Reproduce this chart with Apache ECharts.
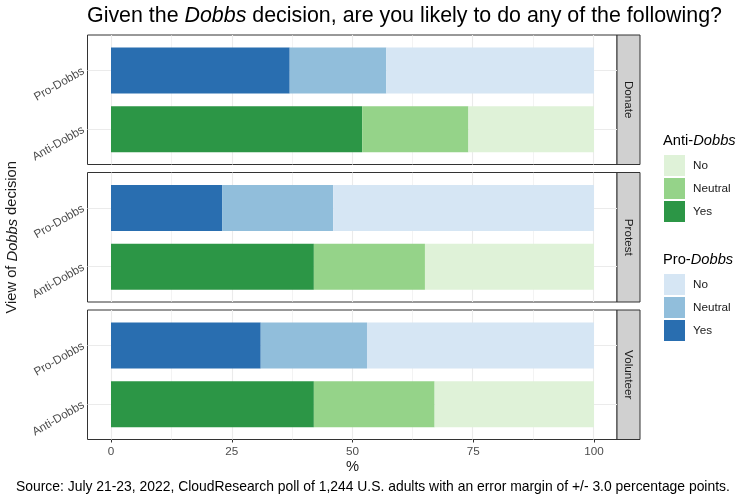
<!DOCTYPE html>
<html style="height: 100%">
<head>
    <meta charset="utf-8">
    <script src="https://cdn.jsdelivr.net/npm/echarts@6/dist/echarts.min.js"></script>
</head>
<body style="height: 100%; margin: 0; background: #fff">
    <div id="main" style="width: 750px; height: 500px;"></div>
    <script type="text/javascript">
    // data (percent)
    var facets = ['Donate', 'Protest', 'Volunteer'];
    var views = ['Anti-Dobbs', 'Pro-Dobbs'];   // bottom -> top
    var answers = ['Yes', 'Neutral', 'No'];    // left -> right in the stack
    var antiYes = [52, 42, 42];
    var antiNeutral = [22, 23, 25];
    var antiNo = [26, 35, 33];
    var proYes = [37, 23, 31];
    var proNeutral = [20, 23, 22];
    var proNo = [43, 54, 47];
    var xTicks = [0, 25, 50, 75, 100];

    var antiColors = { Yes: '#2c9646', Neutral: '#95d389', No: '#dff2d8' };
    var proColors = { Yes: '#296eb0', Neutral: '#91bedb', No: '#d6e6f4' };

    var font = 'Liberation Sans, Arial, Helvetica, sans-serif';
    var panelTop = [35, 172.5, 310];
    var panelH = 129.5;
    var panelLeft = 87.5, panelRight = 617;

    var myChart = echarts.init(document.getElementById('main'));

    var grids = [], xAxes = [], yAxes = [], series = [], graphics = [];

    facets.forEach(function (facet, i) {
        var top = panelTop[i];
        var last = i === facets.length - 1;
        // panel box (border + gridlines)
        grids.push({
            left: panelLeft, width: panelRight - panelLeft, top: top, height: panelH,
            outerBoundsMode: 'none',
            show: true, backgroundColor: '#fff', borderColor: '#333', borderWidth: 1
        });
        xAxes.push({ gridIndex: 2 * i, type: 'value', min: -5, max: 105, show: false });
        yAxes.push({ gridIndex: 2 * i, type: 'value', min: 0.4, max: 2.6, show: false });

        var lines = [];
        xTicks.forEach(function (t, k) {
            lines.push({ xAxis: t, lineStyle: { color: '#ebebeb', width: 1.1, type: 'solid' } });
            if (k < xTicks.length - 1) {
                lines.push({ xAxis: (t + xTicks[k + 1]) / 2, lineStyle: { color: '#ebebeb', width: 0.6, type: 'solid' } });
            }
        });
        views.forEach(function (v, k) {
            lines.push({ yAxis: k + 1, lineStyle: { color: '#ebebeb', width: 1.1, type: 'solid' } });
        });
        series.push({
            type: 'line', xAxisIndex: 2 * i, yAxisIndex: 2 * i, data: [], z: 1,
            markLine: { silent: true, z: 1, symbol: 'none', animation: false, label: { show: false }, data: lines }
        });

        // bars grid (0..100 across, two category bands)
        grids.push({ left: 111, width: 483, top: top + 6, height: 117.5, outerBoundsMode: 'none' });
        xAxes.push({
            gridIndex: 2 * i + 1, type: 'value', min: 0, max: 100, interval: 25,
            offset: 6,
            splitLine: { show: false },
            axisLine: { show: false },
            axisTick: { show: last, length: 3, lineStyle: { color: '#333' } },
            axisLabel: { show: last, color: '#4d4d4d', fontSize: 11.7, fontFamily: font, margin: 6 },
            name: last ? '%' : '', nameLocation: 'middle', nameGap: 20,
            nameTextStyle: { color: '#1a1a1a', fontSize: 14.7, fontFamily: font }
        });
        yAxes.push({
            gridIndex: 2 * i + 1, type: 'category', data: views,
            offset: 23.5,
            axisLine: { show: false },
            axisTick: { show: true, length: 3, alignWithLabel: true, lineStyle: { color: '#333' } },
            axisLabel: { color: '#4d4d4d', fontSize: 11.7, fontFamily: font, rotate: 30, margin: 4 },
            splitLine: { show: false },
            name: i === 1 ? 'View of {i|Dobbs} decision' : '',
            nameLocation: 'middle', nameRotate: 90, nameGap: 64,
            nameTextStyle: {
                color: '#1a1a1a', fontSize: 14.7, fontFamily: font,
                rich: { i: { fontStyle: 'italic', fontSize: 14.7, fontFamily: font, color: '#1a1a1a' } }
            }
        });

        var antiVals = { Yes: antiYes[i], Neutral: antiNeutral[i], No: antiNo[i] };
        var proVals = { Yes: proYes[i], Neutral: proNeutral[i], No: proNo[i] };
        answers.forEach(function (a) {
            series.push({
                name: 'Anti|' + a, type: 'bar', stack: 'panel' + i, z: 3,
                xAxisIndex: 2 * i + 1, yAxisIndex: 2 * i + 1, barWidth: 46,
                itemStyle: { color: antiColors[a] },
                data: [antiVals[a], null]
            });
        });
        answers.forEach(function (a) {
            series.push({
                name: 'Pro|' + a, type: 'bar', stack: 'panel' + i, z: 3,
                xAxisIndex: 2 * i + 1, yAxisIndex: 2 * i + 1, barWidth: 46,
                itemStyle: { color: proColors[a] },
                data: [null, proVals[a]]
            });
        });

        // facet strip on the right
        graphics.push({
            type: 'rect', shape: { x: panelRight, y: top, width: 23, height: panelH },
            style: { fill: '#d0d0d0', stroke: '#333', lineWidth: 1 }
        });
        graphics.push({
            type: 'text', x: panelRight + 11.5, y: top + panelH / 2, rotation: -Math.PI / 2,
            style: { text: facet, fill: '#1a1a1a', fontSize: 11.7, fontFamily: font, align: 'center', verticalAlign: 'middle' }
        });
    });

    var legendCommon = {
        orient: 'vertical', left: 664, itemWidth: 21, itemHeight: 21, itemGap: 2,
        padding: 0, icon: 'rect', selectedMode: false,
        textStyle: { color: '#1a1a1a', fontSize: 11.7, fontFamily: font, padding: [0, 0, 0, 3] },
        formatter: function (name) { return name.split('|')[1]; }
    };

    var legendTitle = {
        color: '#000', fontSize: 14.7, fontWeight: 'normal', fontFamily: font,
        rich: { i: { fontStyle: 'italic', fontSize: 14.7, fontFamily: font, color: '#000' } }
    };

    var option = {
        animation: false,
        backgroundColor: '#fff',
        title: [
            {
                text: 'Given the {i|Dobbs} decision, are you likely to do any of the following?',
                left: 87, top: 6, padding: 0,
                textStyle: {
                    color: '#000', fontSize: 21.4, fontWeight: 'normal', fontFamily: font,
                    rich: { i: { fontStyle: 'italic', fontSize: 21.4, fontFamily: font, color: '#000' } }
                }
            },
            { text: 'Anti-{i|Dobbs}', left: 663, top: 133, padding: 0, textStyle: legendTitle },
            { text: 'Pro-{i|Dobbs}', left: 663, top: 252, padding: 0, textStyle: legendTitle },
            {
                text: 'Source: July 21-23, 2022, CloudResearch poll of 1,244 U.S. adults with an error margin of +/- 3.0 percentage points.',
                left: 16, top: 480, padding: 0,
                textStyle: { color: '#000', fontSize: 13.9, fontWeight: 'normal', fontFamily: font }
            }
        ],
        legend: [
            Object.assign({}, legendCommon, { top: 155, data: ['Anti|No', 'Anti|Neutral', 'Anti|Yes'] }),
            Object.assign({}, legendCommon, { top: 274, data: ['Pro|No', 'Pro|Neutral', 'Pro|Yes'] })
        ],
        grid: grids,
        xAxis: xAxes,
        yAxis: yAxes,
        series: series,
        graphic: graphics
    };

    myChart.setOption(option);
    </script>
</body>
</html>
